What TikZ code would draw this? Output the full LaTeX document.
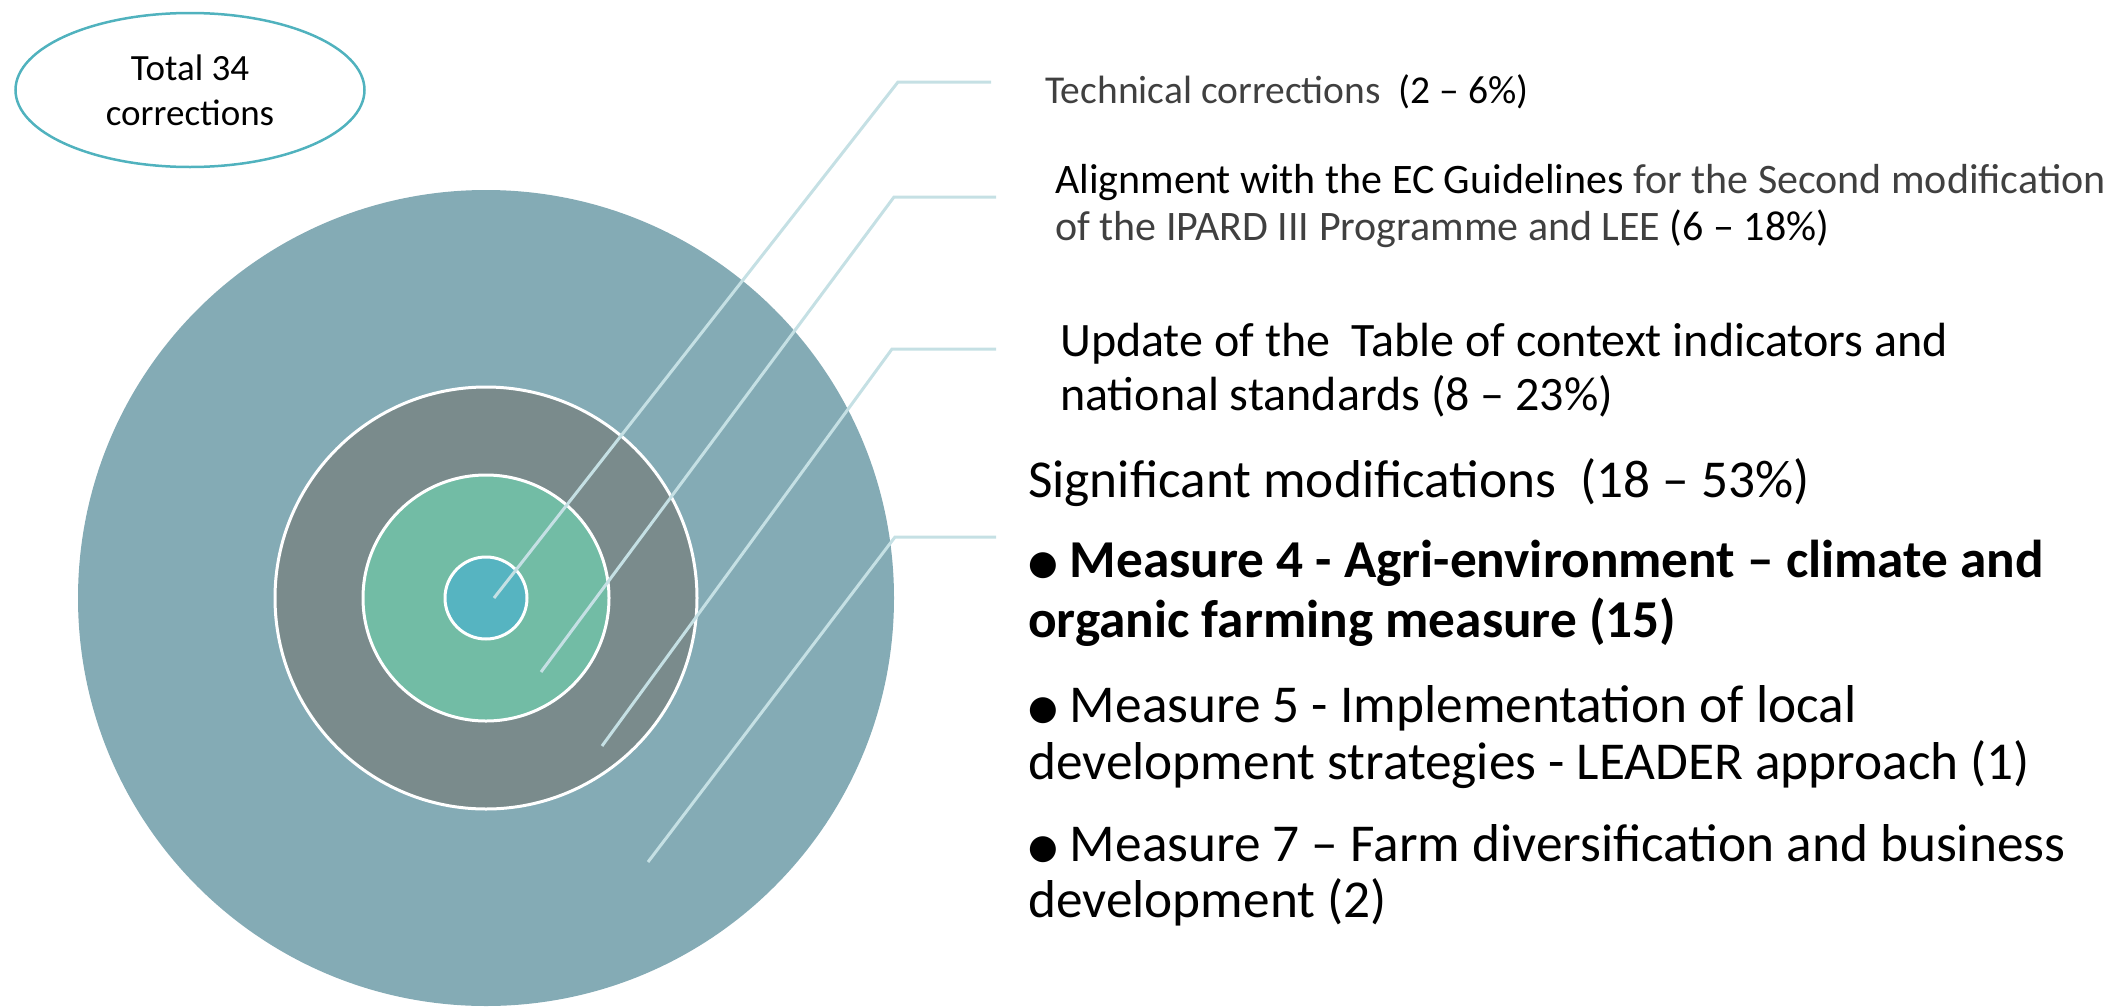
\documentclass[tikz,border=0pt]{standalone}
\usepackage{fontspec}
\usetikzlibrary{shapes.geometric}
\setmainfont{Carlito}
\newfontfamily\symfont{DejaVu Sans}
\definecolor{outerc}{RGB}{132,171,181}
\definecolor{darkc}{RGB}{122,139,140}
\definecolor{greenc}{RGB}{114,188,165}
\definecolor{innerc}{RGB}{86,180,193}
\definecolor{leadc}{RGB}{197,224,228}
\definecolor{ovalc}{RGB}{80,178,190}
\definecolor{lightc}{RGB}{64,64,64}
\newcommand{\bul}{\raisebox{3pt}{\symfont\fontsize{34}{34}\selectfont ●}}
\tikzset{
  ring/.style={circle, draw=white, line width=3pt, inner sep=0pt},
  lead/.style={draw=leadc, line width=3pt},
  lbl/.style={anchor=base west, inner sep=0pt, align=left, text=black}
}
\begin{document}
\begin{tikzpicture}[x=1pt,y=-1pt]
\useasboundingbox (0,0) rectangle (2123,1007);
% rings
\node[ring, fill=outerc, draw=none, minimum size=816pt] (outer) at (486,598) {};
\node[ring, fill=darkc, minimum size=422pt] (mid) at (486,598) {};
\node[ring, fill=greenc, minimum size=246pt] (green) at (486,598) {};
\node[ring, fill=innerc, minimum size=82pt] (inner) at (486,598) {};
% total oval
\node[ellipse, draw=ovalc, line width=2.5pt, minimum width=349pt, minimum height=154pt, inner sep=0pt, align=center, font=\fontsize{37}{45}\selectfont] (total) at (190,90) {Total 34\\corrections};
% leader line coordinates
\coordinate (s1) at (494,598); \coordinate (k1) at (898,82); \coordinate (e1) at (991,82);
\coordinate (s2) at (541,672); \coordinate (k2) at (894,197); \coordinate (e2) at (996,197);
\coordinate (s3) at (602,746); \coordinate (k3) at (892,349); \coordinate (e3) at (996,349);
\coordinate (s4) at (648,862); \coordinate (k4) at (895,537); \coordinate (e4) at (996,537);
\draw[lead] (s1) -- (k1) -- (e1);
\draw[lead] (s2) -- (k2) -- (e2);
\draw[lead] (s3) -- (k3) -- (e3);
\draw[lead] (s4) -- (k4) -- (e4);
% labels (base anchor = baseline of last line)
\node[lbl, font=\fontsize{39.5}{47}\selectfont] (tech) at (1045,103) {{\color{lightc}Technical corrections}\ \ (2 – 6\%)};
\node[lbl, font=\fontsize{42}{47}\selectfont] (align) at (1055,240) {Alignment with the EC Guidelines {\color{lightc}for the Second modification}\\{\color{lightc}of the IPARD III Programme and LEE} (6 – 18\%)};
\node[lbl, font=\fontsize{48}{54}\selectfont] (update) at (1060,410) {Update of the\ \ Table of context indicators and\\national standards (8 – 23\%)};
\node[lbl, font=\fontsize{53.3}{59}\selectfont] (sig) at (1028,497) {Significant modifications\ \ (18 – 53\%)};
\node[lbl, font=\fontsize{53.3}{60}\selectfont\bfseries] (m4) at (1028,637) {\bul\ Measure 4 - Agri-environment – climate and\\organic farming measure (15)};
\node[lbl, font=\fontsize{53.3}{57}\selectfont] (m5) at (1028,779) {\bul\ Measure 5 - Implementation of local\\development strategies - LEADER approach (1)};
\node[lbl, font=\fontsize{53.3}{56}\selectfont] (m7) at (1028,917) {\bul\ Measure 7 – Farm diversification and business\\development (2)};
\end{tikzpicture}
\end{document}
